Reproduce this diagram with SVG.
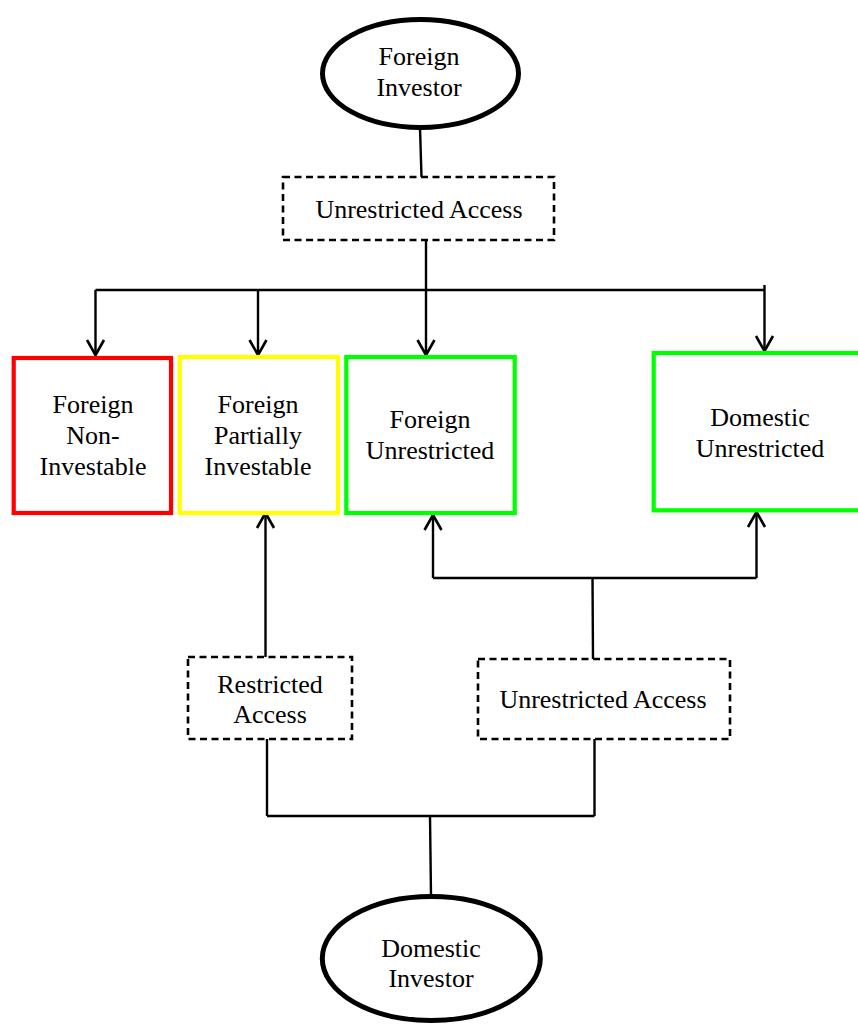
<svg xmlns="http://www.w3.org/2000/svg" width="858" height="1025" viewBox="0 0 858 1025">
<style>
text{font-family:"Liberation Serif","Times New Roman",serif;font-size:26px;fill:#000;text-anchor:middle}
.ell{fill:#fff;stroke:#000;stroke-width:5}
.dash{fill:#fff;stroke:#000;stroke-width:2.6;stroke-dasharray:7 4.5}
.box{fill:#fff;stroke-width:4.2}
.c line{stroke:#000;stroke-width:2.4;fill:none}
.arr{marker-end:url(#ah)}
</style>
<defs>
<marker id="ah" markerUnits="userSpaceOnUse" viewBox="-18 -11 21 22" markerWidth="21" markerHeight="22" refX="0" refY="0" orient="auto">
<path d="M-15,-8.5 L0,0 L-15,8.5" fill="none" stroke="#000" stroke-width="2.6" stroke-linejoin="round"/>
</marker>
</defs>
<rect width="858" height="1025" fill="#fff"/>
<g class="c" id="connectors">
<line x1="420" y1="128" x2="421.5" y2="177"/>
<line x1="95.5" y1="290" x2="765" y2="290"/>
<line x1="426" y1="240" x2="426" y2="290"/>
<line class="arr" x1="95.5" y1="290" x2="95.5" y2="355"/>
<line class="arr" x1="258" y1="290" x2="258" y2="355"/>
<line class="arr" x1="426" y1="290" x2="426" y2="355"/>
<line class="arr" x1="764.5" y1="285" x2="764.5" y2="351"/>
<line class="arr" x1="265.5" y1="657" x2="265.5" y2="513"/>
<line x1="433" y1="578" x2="756.5" y2="578"/>
<line class="arr" x1="433" y1="578" x2="433" y2="515"/>
<line class="arr" x1="756.5" y1="578" x2="756.5" y2="512"/>
<line x1="592.5" y1="578" x2="593" y2="659"/>
<line x1="267" y1="739" x2="267" y2="816"/>
<line x1="594.5" y1="739" x2="594.5" y2="816"/>
<line x1="267" y1="816" x2="594.5" y2="816"/>
<line x1="430" y1="816" x2="431" y2="896"/>
</g>
<g id="foreign-investor">
<ellipse class="ell" cx="420.5" cy="73.5" rx="98" ry="54"/>
<text x="419" y="65">Foreign</text>
<text x="419" y="96">Investor</text>
</g>
<g id="unrestricted-access-top">
<rect class="dash" x="283" y="177" width="271" height="63"/>
<text x="419" y="218">Unrestricted Access</text>
</g>
<g id="foreign-non-investable">
<rect class="box" x="13.7" y="358" width="157.3" height="155" stroke="#ff0000"/>
<text x="93" y="413">Foreign</text>
<text x="93" y="444">Non-</text>
<text x="93" y="475">Investable</text>
</g>
<g id="foreign-partially-investable">
<rect class="box" x="179.7" y="357" width="158.3" height="156" stroke="#ffff00"/>
<text x="258" y="413">Foreign</text>
<text x="258" y="444">Partially</text>
<text x="258" y="475">Investable</text>
</g>
<g id="foreign-unrestricted">
<rect class="box" x="346.3" y="357" width="168.4" height="156" stroke="#00ff00"/>
<text x="430" y="428">Foreign</text>
<text x="430" y="459">Unrestricted</text>
</g>
<g id="domestic-unrestricted">
<rect class="box" x="653.7" y="353" width="213" height="157.3" stroke="#00ff00"/>
<text x="760" y="426">Domestic</text>
<text x="760" y="457">Unrestricted</text>
</g>
<g id="restricted-access">
<rect class="dash" x="188" y="657" width="164" height="82"/>
<text x="270" y="693">Restricted</text>
<text x="270" y="723">Access</text>
</g>
<g id="unrestricted-access-bottom">
<rect class="dash" x="478" y="659" width="252" height="80"/>
<text x="603" y="708">Unrestricted Access</text>
</g>
<g id="domestic-investor">
<ellipse class="ell" cx="431.3" cy="958.5" rx="109" ry="62"/>
<text x="431" y="957">Domestic</text>
<text x="431" y="987">Investor</text>
</g>
</svg>
